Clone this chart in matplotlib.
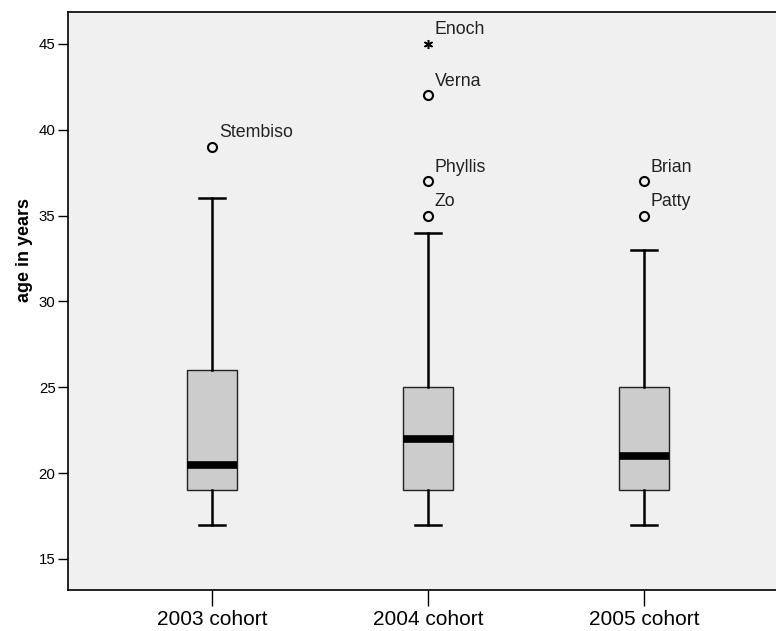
import matplotlib
matplotlib.use("Agg")
import matplotlib.pyplot as plt

plt.rcParams['font.family'] = ['Liberation Sans', 'DejaVu Sans']

cohorts = ["2003 cohort", "2004 cohort", "2005 cohort"]
whisker_low = [17, 17, 17]
q1 = [19, 19, 19]
medians = [20.5, 22, 21]
q3 = [26, 25, 25]
whisker_high = [36, 34, 33]

# outliers (circle) and extremes (star), per cohort
outlier_cohort = [0, 1, 1, 1, 2, 2]
outlier_age = [39, 35, 37, 42, 35, 37]
outlier_name = ["Stembiso", "Zo", "Phyllis", "Verna", "Patty", "Brian"]
extreme_cohort = [1]
extreme_age = [45]
extreme_name = ["Enoch"]

positions = [1, 2, 3]

fig = plt.figure(figsize=(7.76, 6.31), dpi=100)
ax = fig.add_axes([68 / 776, 41 / 631, 1 - 68 / 776, 578 / 631])
ax.set_facecolor("#f0f0f0")

stats = []
for i in range(len(cohorts)):
    stats.append(dict(med=medians[i], q1=q1[i], q3=q3[i],
                      whislo=whisker_low[i], whishi=whisker_high[i],
                      fliers=[], label=cohorts[i]))

ax.bxp(stats, positions=positions, widths=0.236, patch_artist=True,
       showfliers=False,
       boxprops=dict(facecolor="#cccccc", edgecolor="#222222", linewidth=1.0),
       medianprops=dict(color="black", linewidth=5.5, solid_capstyle="butt"),
       whiskerprops=dict(color="black", linewidth=1.8),
       capprops=dict(color="black", linewidth=1.8),
       capwidths=0.116)

for c, a, n in zip(outlier_cohort, outlier_age, outlier_name):
    ax.plot(positions[c], a, marker="o", markersize=6.5, markerfacecolor="none",
            markeredgecolor="black", markeredgewidth=1.5, linestyle="none")
    ax.annotate(n, (positions[c], a), xytext=(5, 7), textcoords="offset points",
                ha="left", va="baseline", fontsize=12.8, color="#222222")

for c, a, n in zip(extreme_cohort, extreme_age, extreme_name):
    ax.plot(positions[c], a, marker=(6, 2, 0), markersize=6.5,
            markeredgecolor="black", markeredgewidth=1.1, linestyle="none")
    ax.annotate(n, (positions[c], a), xytext=(5, 7), textcoords="offset points",
                ha="left", va="baseline", fontsize=12.8, color="#222222")

ax.set_xlim(1 - 144 / 216, 3 + 132 / 216)
ax.set_ylim(13.19, 46.86)
ax.set_yticks([15, 20, 25, 30, 35, 40, 45])
ax.set_xticks(positions)
ax.set_xticklabels(cohorts, fontsize=15)
ax.tick_params(axis="y", labelsize=10.8, length=7, width=1, direction="out", pad=2)
ax.tick_params(axis="x", length=11.5, width=1, direction="out", pad=3)
ax.set_ylabel("age in years", fontsize=13, fontweight="bold")
ax.yaxis.set_label_coords(-35 / 708, (590 - 250) / 578)

ax.spines["right"].set_visible(False)
for s in ["left", "bottom", "top"]:
    ax.spines[s].set_linewidth(1.2)

fig.savefig("out.png", dpi=100)
